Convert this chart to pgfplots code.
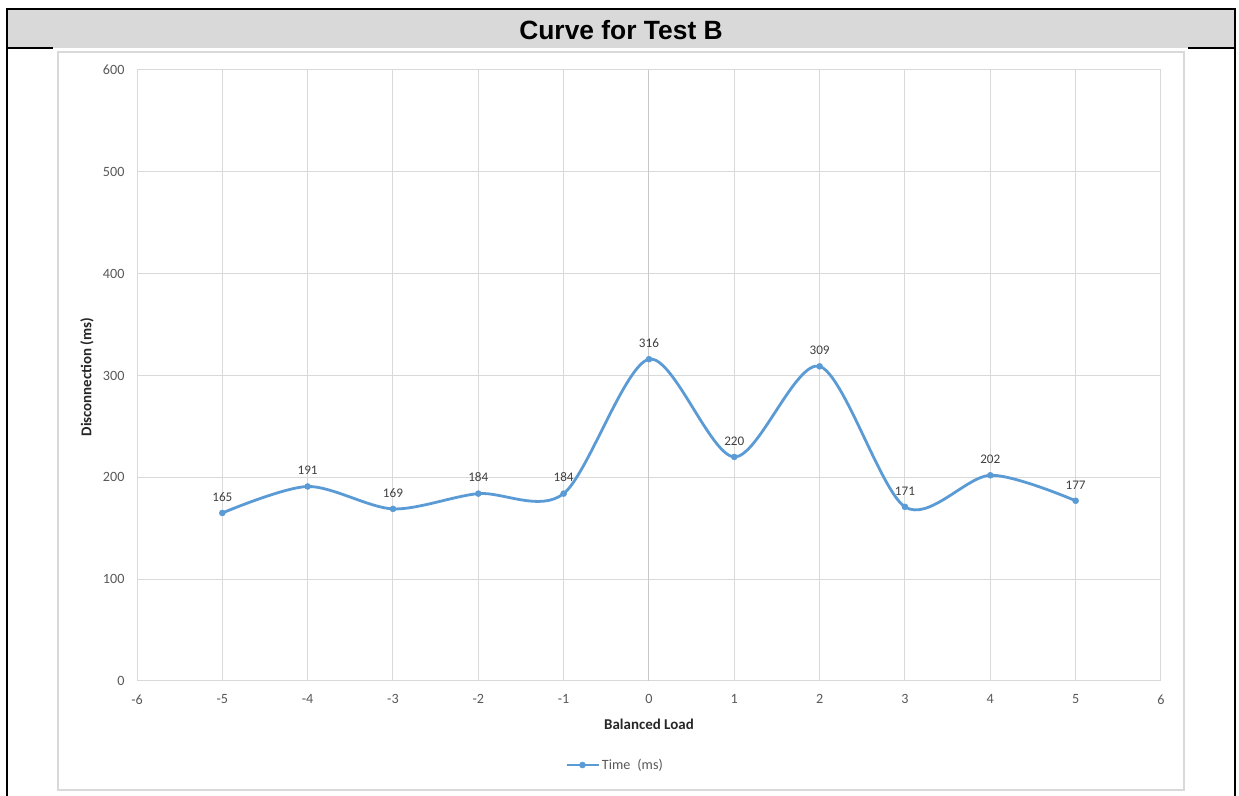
\documentclass[border=0pt]{standalone}
\usepackage{fontspec}
\setmainfont{Carlito}
\newfontfamily\arialfont{Liberation Sans}
\usepackage{pgfplots}
\pgfplotsset{compat=1.18}
\definecolor{seriesblue}{HTML}{5B9BD5}
\definecolor{gridgray}{HTML}{D9D9D9}
\definecolor{axisgray}{HTML}{C8C8C8}
\definecolor{ticktext}{HTML}{595959}
\definecolor{labeltext}{HTML}{404040}
\definecolor{titletext}{HTML}{262626}
\begin{document}
\begin{tikzpicture}
\begin{scope}[x=1bp,y=1bp]
\path[use as bounding box] (0,0) rectangle (1239,796);
% frame and title bar
\fill[gridgray] (7,748) rectangle (1235,787);
\draw[line width=2.5bp] (7,0) -- (7,787) -- (1235,787) -- (1235,0);
\draw[line width=2bp] (7,748) -- (53,748);
\draw[line width=2bp] (1188,748) -- (1235,748);
\node[font=\arialfont\bfseries\fontsize{26.5}{30}\selectfont] at (621,766) {Curve for Test B};
% chart area
\fill[white] (58,6) rectangle (1184,744);
\draw[gridgray, line width=1.5bp] (58,6) rectangle (1184,744);
\end{scope}

\begin{axis}[
    at={(137bp,115bp)}, anchor=south west,
    scale only axis, width=1024bp, height=611bp,
    xmin=-6, xmax=6, ymin=0, ymax=600,
    xtick={-6,-5,...,6}, ytick={0,100,...,600},
    axis x line*=bottom, axis y line*=left,
    axis line style={gridgray, line width=1bp, -},
    grid=major, major grid style={gridgray, line width=1bp},
    major tick length=0pt,
    /pgf/number format/assume math mode=true,
    ticklabel style={font=\fontsize{14.2}{16}\selectfont, text=ticktext},
    yticklabel style={xshift=-9bp},
    xticklabel style={yshift=-10bp},
    xlabel={Balanced Load},
    ylabel={Disconnection (ms)},
    xlabel style={at={(axis description cs:0.5,-0.0704)}, anchor=center,
        font=\bfseries\fontsize{15}{17}\selectfont, text=titletext},
    ylabel style={at={(axis description cs:-0.0488,0.4975)}, anchor=center,
        font=\bfseries\fontsize{15}{17}\selectfont, text=titletext},
    legend style={at={(axis description cs:0.4668,-0.1375)}, anchor=center,
        draw=none, fill=none, font=\fontsize{14.2}{16}\selectfont, text=ticktext},
    legend image code/.code={
        \draw[mark repeat=2, mark phase=2, #1] plot coordinates {(0bp,0bp) (16bp,0bp) (32bp,0bp)};
    },
]
\draw[axisgray, line width=1bp] (axis cs:0,0) -- (axis cs:0,600);
\addplot[seriesblue, line width=2.8bp, smooth, mark=*, mark size=3bp,
    mark options={fill=seriesblue, draw=seriesblue, line width=0.5bp},
    nodes near coords,
    nodes near coords style={font=\fontsize{13.2}{15}\selectfont, text=labeltext, yshift=8bp}]
coordinates {
    (-5,165) (-4,191) (-3,169) (-2,184) (-1,184) (0,316)
    (1,220) (2,309) (3,171) (4,202) (5,177)
};
\addlegendentry{Time\hspace{0.5em}(ms)}
\end{axis}
\end{tikzpicture}
\end{document}
